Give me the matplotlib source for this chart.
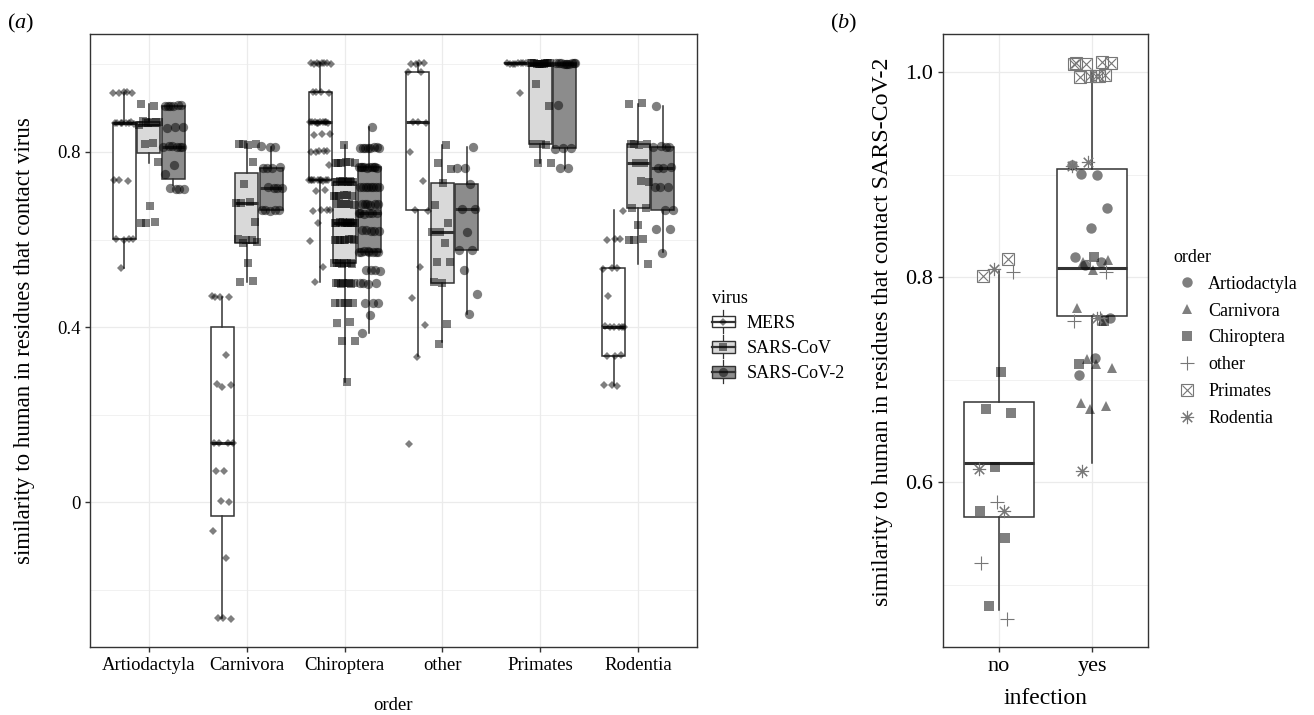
#!/usr/bin/env python3
"""
Similarity to human ACE2 residues that contact virus: (a) by order and virus, (b) by infection
"""

import matplotlib.pyplot as plt
import numpy as np
from matplotlib.lines import Line2D
from matplotlib.patches import Rectangle
from matplotlib.legend_handler import HandlerBase, HandlerTuple

plt.rcParams['font.family'] = ['Liberation Serif', 'DejaVu Serif']
plt.rcParams['mathtext.fontset'] = 'custom'
plt.rcParams['mathtext.rm'] = 'Liberation Serif'
plt.rcParams['mathtext.it'] = 'Liberation Serif:italic'

# ---------------- panel (a) data ----------------
orders = ['Artiodactyla', 'Carnivora', 'Chiroptera', 'other', 'Primates', 'Rodentia']
viruses = ['MERS', 'SARS-CoV', 'SARS-CoV-2']

# box stats per order: (whisker low, q1, median, q3, whisker high)
mers_box = [(0.535, 0.601, 0.866, 0.866, 0.935), (-0.266, -0.032, 0.135, 0.401, 0.469),
            (0.504, 0.736, 0.868, 0.936, 1.003), (0.334, 0.667, 0.868, 0.983, 1.003),
            (1.003, 1.003, 1.003, 1.003, 1.003), (0.267, 0.334, 0.401, 0.534, 0.667)]
sars_box = [(0.775, 0.797, 0.862, 0.869, 0.910), (0.504, 0.593, 0.684, 0.752, 0.818),
            (0.275, 0.546, 0.638, 0.732, 0.816), (0.365, 0.501, 0.616, 0.728, 0.817),
            (0.774, 0.818, 1.000, 1.003, 1.003), (0.545, 0.671, 0.774, 0.818, 0.910)]
sars2_box = [(0.725, 0.738, 0.812, 0.906, 0.906), (0.667, 0.667, 0.718, 0.764, 0.812),
             (0.386, 0.572, 0.660, 0.765, 0.856), (0.429, 0.576, 0.669, 0.726, 0.811),
             (0.763, 0.808, 1.000, 1.003, 1.003), (0.572, 0.667, 0.764, 0.812, 0.904)]

mers_pts = {
    'Artiodactyla': [0.935, 0.936, 0.934, 0.935, 0.937, 0.866, 0.866, 0.867, 0.865, 0.866, 0.866, 0.868, 0.866,
                     0.735, 0.733, 0.736, 0.601, 0.600, 0.602, 0.601, 0.535],
    'Carnivora': [0.469, 0.468, 0.469, 0.470, 0.336, 0.270, 0.267, 0.262, 0.135, 0.136, 0.134, 0.135, 0.072,
                  0.070, 0.000, 0.002, -0.067, -0.127, -0.266, -0.268, -0.266],
    'Chiroptera': [1.003, 1.002, 1.003, 1.001, 1.003, 1.002, 1.003, 1.003, 0.936, 0.935, 0.937, 0.936,
                   0.868, 0.867, 0.869, 0.868, 0.868, 0.866, 0.868, 0.869, 0.868, 0.867, 0.840, 0.842, 0.838,
                   0.802, 0.803, 0.801, 0.802, 0.800, 0.770, 0.736, 0.735, 0.737, 0.736, 0.736, 0.734, 0.736,
                   0.737, 0.735, 0.736, 0.712, 0.710, 0.667, 0.668, 0.666, 0.667, 0.638, 0.596, 0.537, 0.504],
    'other': [1.003, 1.002, 1.003, 1.001, 0.983, 0.982, 0.868, 0.867, 0.869, 0.800, 0.734, 0.667, 0.666,
              0.538, 0.467, 0.405, 0.332, 0.133],
    'Primates': [1.003, 1.002, 1.003, 1.003, 1.001, 1.003, 1.002, 1.003, 0.935],
    'Rodentia': [0.665, 0.601, 0.600, 0.602, 0.534, 0.533, 0.535, 0.472, 0.401, 0.400, 0.402, 0.401, 0.401,
                 0.399, 0.334, 0.333, 0.335, 0.267, 0.268, 0.266],
}
sars_pts = {
    'Artiodactyla': [0.910, 0.905, 0.869, 0.869, 0.868, 0.870, 0.869, 0.867, 0.862, 0.820, 0.818, 0.777,
                     0.677, 0.638, 0.639, 0.637],
    'Carnivora': [0.818, 0.819, 0.817, 0.818, 0.776, 0.727, 0.684, 0.685, 0.683, 0.641, 0.600, 0.601, 0.599,
                  0.593, 0.594, 0.546, 0.504, 0.505],
    'Chiroptera': [0.816, 0.775, 0.776, 0.774, 0.775, 0.776, 0.775, 0.732, 0.733, 0.731, 0.732, 0.733, 0.732,
                   0.731, 0.732, 0.733, 0.732, 0.700, 0.701, 0.699, 0.700, 0.701, 0.700, 0.680, 0.681, 0.679,
                   0.680, 0.681, 0.638, 0.639, 0.637, 0.638, 0.639, 0.638, 0.637, 0.638, 0.639, 0.638, 0.637,
                   0.638, 0.600, 0.601, 0.599, 0.600, 0.601, 0.600, 0.599, 0.600, 0.546, 0.547, 0.545, 0.546,
                   0.547, 0.546, 0.545, 0.546, 0.500, 0.501, 0.499, 0.500, 0.501, 0.500, 0.499, 0.500, 0.455,
                   0.456, 0.454, 0.455, 0.456, 0.410, 0.411, 0.369, 0.368, 0.275],
    'other': [0.817, 0.775, 0.760, 0.728, 0.679, 0.638, 0.616, 0.617, 0.592, 0.548, 0.549, 0.501, 0.502,
              0.407, 0.362],
    'Primates': [1.003, 1.002, 1.003, 1.003, 1.001, 1.003, 1.002, 1.003, 1.003, 1.002, 1.003, 1.001,
                 0.955, 0.905, 0.818, 0.819, 0.817, 0.774, 0.775],
    'Rodentia': [0.910, 0.911, 0.818, 0.819, 0.817, 0.818, 0.774, 0.775, 0.732, 0.733, 0.671, 0.672, 0.633,
                 0.600, 0.601, 0.599, 0.545],
}
sars2_pts = {
    'Artiodactyla': [0.906, 0.907, 0.905, 0.906, 0.907, 0.906, 0.856, 0.857, 0.855, 0.812, 0.813, 0.811,
                     0.812, 0.813, 0.812, 0.770, 0.750, 0.716, 0.717, 0.715, 0.716],
    'Carnivora': [0.812, 0.813, 0.811, 0.764, 0.765, 0.763, 0.764, 0.718, 0.719, 0.717, 0.718, 0.667, 0.668,
                  0.666, 0.667, 0.668],
    'Chiroptera': [0.856, 0.810, 0.811, 0.809, 0.810, 0.811, 0.810, 0.809, 0.810, 0.765, 0.766, 0.764, 0.765,
                   0.766, 0.765, 0.764, 0.765, 0.766, 0.765, 0.720, 0.721, 0.719, 0.720, 0.721, 0.720, 0.719,
                   0.720, 0.680, 0.681, 0.679, 0.680, 0.681, 0.680, 0.660, 0.661, 0.659, 0.660, 0.661, 0.660,
                   0.620, 0.621, 0.619, 0.620, 0.621, 0.572, 0.573, 0.571, 0.572, 0.573, 0.572, 0.571, 0.572,
                   0.530, 0.531, 0.529, 0.530, 0.500, 0.501, 0.499, 0.500, 0.455, 0.456, 0.454, 0.427, 0.386],
    'other': [0.811, 0.763, 0.764, 0.726, 0.669, 0.670, 0.616, 0.576, 0.577, 0.530, 0.475, 0.429],
    'Primates': [1.003, 1.002, 1.003, 1.003, 1.001, 1.003, 1.002, 1.003, 1.003, 1.002, 0.907, 0.808, 0.809,
                 0.807, 0.763, 0.764],
    'Rodentia': [0.904, 0.812, 0.813, 0.811, 0.812, 0.764, 0.765, 0.763, 0.720, 0.721, 0.719, 0.667, 0.668,
                 0.623, 0.624, 0.570],
}

# ---------------- panel (b) data ----------------
infection = ['no', 'yes']
infection_box = [(0.476, 0.566, 0.619, 0.678, 0.806), (0.619, 0.762, 0.809, 0.905, 1.000)]
no_pts = {
    'Artiodactyla': [],
    'Carnivora': [],
    'Chiroptera': [0.708, 0.672, 0.668, 0.615, 0.572, 0.546, 0.480],
    'other': [0.805, 0.581, 0.522, 0.467],
    'Primates': [0.801, 0.818],
    'Rodentia': [0.808, 0.613, 0.572],
}
yes_pts = {
    'Artiodactyla': [0.909, 0.900, 0.901, 0.867, 0.848, 0.820, 0.815, 0.812, 0.760, 0.721, 0.705],
    'Carnivora': [0.815, 0.817, 0.807, 0.770, 0.757, 0.720, 0.712, 0.715, 0.677, 0.675, 0.672],
    'Chiroptera': [0.820, 0.715, 0.757],
    'other': [0.805, 0.817, 0.757, 0.760],
    'Primates': [1.009, 1.010, 1.008, 1.009, 0.996, 0.995, 0.997, 0.996, 1.008, 0.996],
    'Rodentia': [0.912, 0.908, 0.760, 0.611],
}

EDGE = '#333333'
GRID = '#ebebeb'
virus_fill = ['#ffffff', '#d9d9d9', '#8c8c8c']
virus_marker = [('D', 4.5), ('s', 6.2), ('o', 6.7)]
order_marker = {'Artiodactyla': 'o', 'Carnivora': '^', 'Chiroptera': 's',
                'other': '+', 'Primates': 'boxx', 'Rodentia': (8, 2, 0)}


def spread(n, w, phase=0.0):
    # deterministic, evenly scattered horizontal offsets (stand-in for jitter)
    return ((((np.arange(n) + phase) * 0.6180339887) % 1.0) - 0.5) * 2 * w


def to_stats(box):
    lo, q1, med, q3, hi = box
    return dict(whislo=lo, q1=q1, med=med, q3=q3, whishi=hi, fliers=[])


def style_axes(ax, fs):
    for s in ax.spines.values():
        s.set_color(EDGE)
        s.set_linewidth(1.0)
    ax.tick_params(axis='both', which='major', length=3.5, width=1.0, color=EDGE,
                   labelsize=fs, labelcolor='black')
    ax.tick_params(axis='both', which='minor', length=0)
    ax.grid(True, which='major', color=GRID, linewidth=0.9)
    ax.grid(True, which='minor', axis='y', color=GRID, linewidth=0.5)
    ax.set_axisbelow(True)


fig = plt.figure(figsize=(13.14, 7.15), dpi=100)
ax_a = fig.add_axes([90 / 1314, 68 / 715, 607 / 1314, 613 / 715])
ax_b = fig.add_axes([943 / 1314, 68 / 715, 205 / 1314, 613 / 715])

# ---------------- panel (a) ----------------
dodge = [-0.25, 0.0, 0.25]
boxes = [mers_box, sars_box, sars2_box]
points = [mers_pts, sars_pts, sars2_pts]
centres = np.arange(1, len(orders) + 1)
for v in range(3):
    pos = centres + dodge[v]
    ax_a.bxp([to_stats(b) for b in boxes[v]], positions=pos, widths=0.235,
             patch_artist=True, showfliers=False, showcaps=False,
             boxprops=dict(facecolor=virus_fill[v], edgecolor=EDGE, linewidth=1.1),
             whiskerprops=dict(color=EDGE, linewidth=1.1),
             medianprops=dict(color=EDGE, linewidth=2.2), zorder=2)
    mk, ms = virus_marker[v]
    for i, o in enumerate(orders):
        vals = points[v][o]
        xs = pos[i] + spread(len(vals), 0.11, phase=i * 0.3 + v * 0.2)
        ax_a.plot(xs, vals, ls='none', marker=mk, ms=ms, color='black', alpha=0.5,
                  markeredgewidth=0, zorder=3)

ax_a.set_xlim(0.4, 6.6)
ax_a.set_ylim(-0.3314, 1.0697)
ax_a.set_xticks(centres)
ax_a.set_xticklabels(orders)
ax_a.set_yticks([0, 0.4, 0.8])
ax_a.set_yticklabels(['0', '0.4', '0.8'])
ax_a.set_yticks([-0.2, 0.2, 0.6, 1.0], minor=True)
style_axes(ax_a, 13.5)
ax_a.set_xlabel('order', fontsize=13.5, labelpad=17)
ax_a.set_ylabel('similarity to human in residues that contact virus', fontsize=16.5)
ax_a.yaxis.set_label_coords(-0.091, 0.5)


class BoxKey:
    def __init__(self, fill, marker, ms):
        self.fill, self.marker, self.ms = fill, marker, ms


class BoxKeyHandler(HandlerBase):
    def create_artists(self, legend, h, xd, yd, w, ht, fs, trans):
        x0, y0 = -xd, -yd
        cx, cy = x0 + w / 2, y0 + ht / 2
        whisk = Line2D([cx, cx], [y0 - 0.3 * ht, y0 + 1.3 * ht], color=EDGE, lw=0.9)
        box = Rectangle((x0, y0 + 0.1 * ht), w, 0.8 * ht, facecolor=h.fill, edgecolor=EDGE, lw=1.0)
        med = Line2D([x0, x0 + w], [cy, cy], color=EDGE, lw=1.6)
        pt = Line2D([cx], [cy], marker=h.marker, ms=h.ms, color='black', alpha=0.5,
                    markeredgewidth=0, ls='none')
        arts = [whisk, box, med, pt]
        for a in arts:
            a.set_transform(trans)
        return arts


keys = [BoxKey(virus_fill[v], virus_marker[v][0], virus_marker[v][1]) for v in range(3)]
fig.legend(keys, viruses, handler_map={BoxKey: BoxKeyHandler()}, loc='center left',
           bbox_to_anchor=(712 / 1314, 1 - 336 / 715), title='virus', frameon=False,
           fontsize=13, title_fontsize=13, handlelength=1.25, handleheight=0.85,
           handletextpad=0.65, labelspacing=0.42, alignment='left', borderpad=0, borderaxespad=0)

# ---------------- panel (b) ----------------
ax_b.bxp([to_stats(b) for b in infection_box], positions=[1, 2], widths=0.75,
         patch_artist=True, showfliers=False, showcaps=False,
         boxprops=dict(facecolor='white', edgecolor=EDGE, linewidth=1.1),
         whiskerprops=dict(color=EDGE, linewidth=1.1),
         medianprops=dict(color=EDGE, linewidth=2.2), zorder=2)


def draw_order(ax, x, y, o):
    m = order_marker[o]
    if m == 'boxx':
        ax.plot(x, y, ls='none', marker='s', ms=8.5, mfc='none', mec='#777777', mew=0.8, zorder=3)
        ax.plot(x, y, ls='none', marker='x', ms=6.5, color='#777777', mew=0.8, zorder=3)
    elif m in ('+', (8, 2, 0)):
        ax.plot(x, y, ls='none', marker=m, ms=9.5, color='#777777', mew=0.8, zorder=3)
    else:
        ax.plot(x, y, ls='none', marker=m, ms=7.5, color='black', alpha=0.5,
                markeredgewidth=0, zorder=3)


for g, pts in enumerate([no_pts, yes_pts]):
    for k, o in enumerate(orders):
        vals = pts[o]
        if not vals:
            continue
        xs = g + 1 + spread(len(vals), 0.22, phase=k * 0.45)
        draw_order(ax_b, xs, vals, o)

ax_b.set_xlim(0.4, 2.6)
ax_b.set_ylim(0.4397, 1.037)
ax_b.set_xticks([1, 2])
ax_b.set_xticklabels(infection)
ax_b.set_yticks([0.6, 0.8, 1.0])
ax_b.set_yticklabels(['0.6', '0.8', '1.0'])
ax_b.set_yticks([0.5, 0.7, 0.9], minor=True)
style_axes(ax_b, 16)
ax_b.set_xlabel('infection', fontsize=17, labelpad=9)
ax_b.set_ylabel('similarity to human in residues that contact SARS-CoV-2', fontsize=17.2)
ax_b.yaxis.set_label_coords(-0.245, 0.514)

order_handles = []
for o in orders:
    m = order_marker[o]
    if m == 'boxx':
        order_handles.append((Line2D([], [], ls='none', marker='s', ms=8.5, mfc='none', mec='#777777', mew=0.8),
                              Line2D([], [], ls='none', marker='x', ms=6.5, color='#777777', mew=0.8)))
    elif m in ('+', (8, 2, 0)):
        order_handles.append(Line2D([], [], ls='none', marker=m, ms=9.5, color='#777777', mew=0.8))
    else:
        order_handles.append(Line2D([], [], ls='none', marker=m, ms=7.5, color='black', alpha=0.5,
                                    markeredgewidth=0))
fig.legend(order_handles, orders, handler_map={tuple: HandlerTuple(ndivide=1)}, loc='center left',
           bbox_to_anchor=(1173 / 1314, 1 - 338 / 715), title='order', frameon=False,
           fontsize=13, title_fontsize=13, handlelength=1.5, handletextpad=0.45,
           labelspacing=0.55, alignment='left', borderpad=0, borderaxespad=0)

# panel tags
fig.text(7 / 1314, 1 - 23 / 715, r'($\mathit{a}$)', fontsize=16, va='center', ha='left')
fig.text(830 / 1314, 1 - 23 / 715, r'($\mathit{b}$)', fontsize=16, va='center', ha='left')

fig.savefig('out.png', dpi=100)
